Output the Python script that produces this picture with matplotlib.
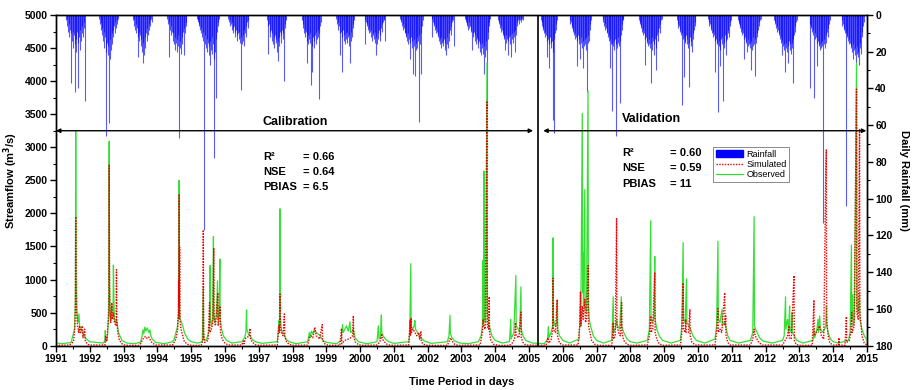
import numpy as np
import matplotlib
matplotlib.use("Agg")
import matplotlib.pyplot as plt
from matplotlib.patches import Patch
from matplotlib.lines import Line2D

plt.rcParams['font.family'] = ['Liberation Sans', 'DejaVu Sans']
plt.rcParams['font.weight'] = 'bold'

# observed streamflow (decimal year, m3/s)
observed = [
    (1991.00, 40), (1991.20, 30), (1991.45, 50), (1991.55, 250), (1991.575, 700), (1991.585, 3240),
    (1991.595, 900), (1991.605, 960), (1991.62, 500), (1991.65, 350), (1991.68, 480), (1991.70, 300),
    (1991.75, 250), (1991.80, 180), (1991.90, 100), (1992.00, 60), (1992.40, 40), (1992.45, 80),
    (1992.46, 230), (1992.47, 60), (1992.52, 100), (1992.55, 350), (1992.565, 900), (1992.575, 3090),
    (1992.585, 1000), (1992.60, 450), (1992.63, 400), (1992.65, 600), (1992.69, 500), (1992.70, 1220),
    (1992.715, 700), (1992.73, 400), (1992.76, 350), (1992.79, 400), (1992.85, 200), (1992.95, 80),
    (1993.10, 40), (1993.30, 30), (1993.50, 50), (1993.55, 150), (1993.57, 240), (1993.60, 180),
    (1993.63, 280), (1993.66, 220), (1993.70, 270), (1993.75, 200), (1993.78, 240), (1993.80, 160),
    (1993.85, 100), (1993.95, 50), (1994.20, 30), (1994.45, 60), (1994.50, 100), (1994.55, 200),
    (1994.60, 300), (1994.63, 500), (1994.645, 2500), (1994.655, 700), (1994.67, 400), (1994.70, 370),
    (1994.75, 300), (1994.80, 200), (1994.90, 100), (1995.00, 60), (1995.20, 40), (1995.33, 60),
    (1995.36, 890), (1995.37, 100), (1995.45, 80), (1995.52, 200), (1995.55, 400), (1995.56, 1210),
    (1995.57, 450), (1995.60, 300), (1995.64, 400), (1995.66, 1650), (1995.67, 500), (1995.70, 350),
    (1995.75, 450), (1995.78, 980), (1995.79, 400), (1995.83, 500), (1995.85, 1310), (1995.86, 400),
    (1995.90, 250), (1995.95, 150), (1996.05, 80), (1996.20, 40), (1996.50, 60), (1996.58, 120),
    (1996.62, 200), (1996.64, 540), (1996.65, 250), (1996.70, 170), (1996.75, 150), (1996.80, 100),
    (1996.90, 60), (1997.10, 35), (1997.55, 60), (1997.60, 380), (1997.615, 300), (1997.63, 2070),
    (1997.64, 400), (1997.67, 250), (1997.70, 200), (1997.75, 180), (1997.80, 100), (1997.90, 60),
    (1998.10, 30), (1998.45, 60), (1998.50, 200), (1998.52, 120), (1998.56, 220), (1998.60, 180),
    (1998.65, 240), (1998.70, 200), (1998.75, 180), (1998.80, 160), (1998.85, 120), (1998.90, 80),
    (1999.00, 50), (1999.30, 30), (1999.44, 80), (1999.48, 320), (1999.50, 200), (1999.55, 250),
    (1999.60, 300), (1999.65, 220), (1999.70, 360), (1999.72, 200), (1999.78, 220), (1999.80, 250),
    (1999.85, 120), (1999.95, 60), (2000.20, 30), (2000.50, 60), (2000.54, 300), (2000.56, 100),
    (2000.60, 130), (2000.63, 465), (2000.64, 200), (2000.68, 150), (2000.75, 100), (2000.85, 60),
    (2001.00, 35), (2001.44, 60), (2001.47, 200), (2001.50, 1240), (2001.51, 300), (2001.55, 250),
    (2001.60, 300), (2001.62, 380), (2001.64, 250), (2001.70, 200), (2001.75, 150), (2001.80, 120),
    (2001.90, 70), (2002.10, 35), (2002.58, 60), (2002.63, 150), (2002.66, 460), (2002.67, 180),
    (2002.72, 120), (2002.80, 70), (2002.95, 40), (2003.20, 30), (2003.50, 60), (2003.58, 150),
    (2003.62, 300), (2003.64, 1290), (2003.65, 350), (2003.665, 2640), (2003.675, 400), (2003.72, 350),
    (2003.755, 4280), (2003.765, 500), (2003.80, 330), (2003.85, 250), (2003.90, 150), (2004.00, 80),
    (2004.20, 40), (2004.42, 60), (2004.46, 400), (2004.47, 100), (2004.55, 200), (2004.61, 1060),
    (2004.62, 300), (2004.68, 250), (2004.72, 200), (2004.76, 890), (2004.77, 250), (2004.82, 150),
    (2004.90, 80), (2005.10, 40), (2005.45, 30), (2005.55, 100), (2005.57, 290), (2005.59, 120),
    (2005.65, 200), (2005.70, 300), (2005.71, 1630), (2005.72, 400), (2005.77, 300), (2005.82, 350),
    (2005.84, 680), (2005.85, 250), (2005.90, 150), (2006.00, 80), (2006.20, 40), (2006.48, 100),
    (2006.52, 600), (2006.53, 300), (2006.575, 3510), (2006.585, 800), (2006.60, 1400), (2006.61, 600),
    (2006.65, 2360), (2006.66, 600), (2006.70, 500), (2006.745, 3850), (2006.755, 600), (2006.78, 400),
    (2006.82, 300), (2006.90, 150), (2007.00, 80), (2007.20, 40), (2007.45, 80), (2007.49, 740),
    (2007.50, 200), (2007.55, 250), (2007.59, 400), (2007.62, 300), (2007.68, 250), (2007.73, 740),
    (2007.74, 300), (2007.80, 200), (2007.90, 100), (2008.00, 60), (2008.20, 40), (2008.50, 80),
    (2008.56, 250), (2008.60, 1890), (2008.61, 400), (2008.65, 350), (2008.70, 450), (2008.72, 1350),
    (2008.73, 400), (2008.78, 250), (2008.85, 150), (2008.95, 80), (2009.20, 40), (2009.48, 80),
    (2009.52, 300), (2009.56, 1560), (2009.57, 400), (2009.62, 350), (2009.66, 1010), (2009.67, 350),
    (2009.72, 300), (2009.78, 250), (2009.85, 150), (2009.95, 80), (2010.20, 40), (2010.50, 100),
    (2010.55, 300), (2010.59, 1580), (2010.60, 400), (2010.65, 350), (2010.71, 550), (2010.72, 300),
    (2010.78, 350), (2010.82, 300), (2010.88, 150), (2010.95, 80), (2011.20, 40), (2011.55, 80),
    (2011.62, 200), (2011.66, 1950), (2011.67, 300), (2011.70, 250), (2011.75, 200), (2011.82, 120),
    (2011.92, 70), (2012.20, 40), (2012.50, 80), (2012.55, 150), (2012.59, 740), (2012.60, 250),
    (2012.65, 400), (2012.68, 200), (2012.71, 600), (2012.72, 250), (2012.76, 200), (2012.78, 500),
    (2012.79, 200), (2012.85, 150), (2012.92, 80), (2013.10, 40), (2013.40, 80), (2013.43, 250),
    (2013.45, 120), (2013.52, 250), (2013.55, 400), (2013.57, 200), (2013.60, 450), (2013.62, 250),
    (2013.70, 200), (2013.78, 300), (2013.80, 600), (2013.81, 300), (2013.85, 200), (2013.92, 100),
    (2014.00, 60), (2014.15, 40), (2014.45, 80), (2014.50, 200), (2014.54, 1520), (2014.55, 400),
    (2014.58, 770), (2014.59, 300), (2014.63, 400), (2014.69, 4270), (2014.70, 600), (2014.74, 500),
    (2014.78, 800), (2014.79, 400), (2014.85, 250), (2014.92, 150), (2015.00, 80),
]

# simulated streamflow (decimal year, m3/s)
simulated = [
    (1991.00, 5), (1991.40, 10), (1991.52, 60), (1991.56, 300), (1991.575, 600), (1991.585, 1950),
    (1991.595, 700), (1991.61, 550), (1991.63, 350), (1991.67, 200), (1991.70, 300), (1991.72, 180),
    (1991.78, 300), (1991.80, 120), (1991.85, 250), (1991.87, 60), (1991.95, 20), (1992.00, 10),
    (1992.45, 10), (1992.47, 150), (1992.50, 60), (1992.55, 400), (1992.565, 600), (1992.575, 2740),
    (1992.585, 900), (1992.60, 500), (1992.62, 350), (1992.65, 650), (1992.67, 400), (1992.70, 500),
    (1992.73, 350), (1992.78, 300), (1992.79, 1150), (1992.80, 400), (1992.83, 200), (1992.88, 80),
    (1992.95, 30), (1993.05, 5), (1993.45, 5), (1993.50, 30), (1993.55, 80), (1993.60, 120),
    (1993.65, 140), (1993.70, 110), (1993.75, 130), (1993.80, 80), (1993.85, 40), (1993.95, 10),
    (1994.45, 10), (1994.55, 100), (1994.60, 250), (1994.62, 500), (1994.63, 990), (1994.635, 400),
    (1994.645, 2290), (1994.652, 600), (1994.66, 1490), (1994.67, 400), (1994.70, 250), (1994.75, 150),
    (1994.80, 60), (1994.90, 20), (1995.00, 5), (1995.30, 5), (1995.35, 100), (1995.36, 1750),
    (1995.37, 200), (1995.40, 50), (1995.50, 80), (1995.545, 650), (1995.555, 200), (1995.60, 250),
    (1995.64, 350), (1995.67, 1480), (1995.68, 400), (1995.72, 300), (1995.79, 800), (1995.80, 300),
    (1995.86, 600), (1995.87, 200), (1995.92, 100), (1996.00, 40), (1996.10, 10), (1996.50, 10),
    (1996.55, 70), (1996.56, 30), (1996.62, 120), (1996.66, 130), (1996.72, 140), (1996.74, 260),
    (1996.75, 120), (1996.80, 60), (1996.90, 15), (1997.00, 5), (1997.55, 10), (1997.60, 300),
    (1997.615, 200), (1997.63, 780), (1997.64, 300), (1997.67, 200), (1997.72, 150), (1997.76, 480),
    (1997.77, 150), (1997.82, 60), (1997.90, 20), (1998.00, 5), (1998.45, 10), (1998.50, 120),
    (1998.55, 150), (1998.60, 120), (1998.66, 280), (1998.70, 150), (1998.75, 130), (1998.80, 100),
    (1998.88, 320), (1998.89, 80), (1998.95, 30), (1999.05, 5), (1999.40, 5), (1999.45, 260),
    (1999.46, 30), (1999.55, 80), (1999.65, 100), (1999.72, 120), (1999.78, 150), (1999.80, 455),
    (1999.81, 150), (1999.85, 60), (1999.95, 15), (2000.05, 5), (2000.50, 10), (2000.55, 40),
    (2000.60, 80), (2000.64, 180), (2000.66, 100), (2000.72, 60), (2000.80, 20), (2000.90, 5),
    (2001.44, 10), (2001.48, 380), (2001.49, 150), (2001.51, 420), (2001.52, 200), (2001.57, 250),
    (2001.62, 200), (2001.68, 150), (2001.74, 200), (2001.76, 100), (2001.80, 220), (2001.81, 80),
    (2001.85, 30), (2001.95, 5), (2002.58, 5), (2002.63, 60), (2002.67, 120), (2002.72, 70),
    (2002.80, 20), (2002.90, 5), (2003.55, 10), (2003.62, 200), (2003.64, 400), (2003.66, 300),
    (2003.70, 250), (2003.755, 3700), (2003.765, 300), (2003.80, 250), (2003.82, 740), (2003.83, 200),
    (2003.87, 80), (2003.95, 20), (2004.10, 5), (2004.42, 5), (2004.50, 40), (2004.57, 100),
    (2004.60, 350), (2004.62, 150), (2004.70, 120), (2004.76, 510), (2004.77, 120), (2004.82, 50),
    (2004.90, 10), (2005.50, 5), (2005.56, 120), (2005.58, 40), (2005.65, 80), (2005.70, 250),
    (2005.71, 1020), (2005.72, 250), (2005.78, 200), (2005.83, 700), (2005.84, 150), (2005.90, 40),
    (2006.00, 10), (2006.45, 10), (2006.50, 300), (2006.52, 820), (2006.53, 300), (2006.58, 600),
    (2006.60, 400), (2006.65, 700), (2006.67, 350), (2006.70, 400), (2006.75, 1210), (2006.76, 300),
    (2006.80, 200), (2006.85, 80), (2006.95, 20), (2007.05, 5), (2007.45, 5), (2007.49, 350),
    (2007.50, 100), (2007.55, 150), (2007.59, 1920), (2007.60, 300), (2007.65, 200), (2007.70, 150),
    (2007.74, 650), (2007.75, 200), (2007.80, 80), (2007.90, 20), (2008.00, 5), (2008.50, 10),
    (2008.56, 150), (2008.60, 450), (2008.61, 200), (2008.66, 250), (2008.72, 1110), (2008.73, 200),
    (2008.78, 100), (2008.85, 30), (2008.95, 5), (2009.48, 10), (2009.52, 200), (2009.56, 950),
    (2009.57, 250), (2009.62, 200), (2009.64, 400), (2009.65, 200), (2009.72, 200), (2009.76, 550),
    (2009.77, 150), (2009.82, 50), (2009.92, 10), (2010.50, 10), (2010.55, 200), (2010.59, 560),
    (2010.60, 200), (2010.65, 250), (2010.70, 200), (2010.79, 800), (2010.80, 300), (2010.82, 450),
    (2010.83, 150), (2010.88, 50), (2010.95, 10), (2011.55, 10), (2011.62, 100), (2011.66, 250),
    (2011.68, 180), (2011.72, 120), (2011.80, 50), (2011.90, 10), (2012.50, 10), (2012.60, 100),
    (2012.65, 150), (2012.69, 300), (2012.70, 120), (2012.76, 100), (2012.84, 1060), (2012.85, 80),
    (2012.90, 20), (2013.00, 5), (2013.38, 5), (2013.43, 690), (2013.44, 150), (2013.50, 200),
    (2013.55, 250), (2013.60, 300), (2013.65, 150), (2013.72, 100), (2013.785, 2770), (2013.795, 2960),
    (2013.805, 400), (2013.85, 150), (2013.90, 40), (2014.00, 10), (2014.16, 10), (2014.17, 120),
    (2014.18, 10), (2014.35, 5), (2014.39, 440), (2014.40, 50), (2014.48, 80), (2014.52, 200),
    (2014.55, 500), (2014.56, 200), (2014.62, 300), (2014.69, 3880), (2014.70, 500), (2014.74, 400),
    (2014.78, 3270), (2014.79, 500), (2014.85, 150), (2014.92, 40), (2015.00, 10),
]

# daily rainfall (mm): first bar of each wet season, bars one week apart
rain_start = [1991.30, 1992.28, 1993.28, 1994.30, 1995.17, 1996.10, 1997.25, 1998.28,
              1999.30, 2000.14, 2001.18, 2002.12, 2003.10, 2004.08, 2005.35, 2006.20,
              2007.18, 2008.25, 2009.38, 2010.30, 2011.18, 2012.25, 2013.30, 2014.25]
rain_mm = [
    [3, 6, 2, 9, 5, 12, 8, 10, 37, 14, 9, 18, 11, 16, 42, 13, 20, 9, 40, 15, 12, 19, 8, 14, 10, 6, 12, 4, 7, 47],
    [2, 5, 8, 4, 11, 7, 14, 9, 18, 12, 66, 20, 15, 22, 17, 59, 24, 13, 19, 10, 16, 8, 12, 6, 10, 4, 7, 3, 5, 2],
    [3, 6, 2, 8, 5, 10, 7, 12, 23, 9, 14, 11, 17, 13, 20, 26, 15, 22, 12, 18, 10, 14, 7, 11, 5, 8, 3, 6, 2, 4],
    [2, 5, 23, 4, 8, 6, 11, 9, 14, 10, 16, 12, 19, 15, 13, 20, 17, 11, 67, 18, 14, 21, 12, 16, 9, 22, 7, 10, 4, 6],
    [2, 4, 3, 6, 5, 8, 10, 7, 12, 14, 9, 117, 16, 11, 18, 13, 20, 15, 22, 17, 14, 27, 19, 12, 21, 16, 24, 78, 20, 45, 13, 9, 6, 4, 2],
    [2, 4, 6, 3, 5, 8, 4, 7, 10, 6, 9, 12, 8, 11, 14, 10, 13, 9, 15, 41, 12, 16, 11, 14, 8, 17, 10, 6, 12, 4, 7, 3],
    [3, 6, 21, 5, 9, 12, 8, 14, 10, 16, 12, 18, 11, 15, 13, 20, 14, 25, 12, 17, 9, 15, 11, 8, 13, 10, 36, 7, 5, 3],
    [3, 7, 5, 10, 8, 12, 9, 14, 26, 11, 16, 13, 10, 15, 38, 17, 31, 12, 18, 14, 11, 16, 9, 13, 8, 12, 10, 46, 6, 4],
    [2, 5, 4, 8, 6, 10, 22, 9, 31, 12, 8, 14, 11, 16, 10, 13, 9, 15, 12, 17, 11, 26, 14, 9, 12, 7, 5, 3],
    [3, 16, 4, 6, 5, 8, 7, 10, 9, 12, 8, 14, 11, 10, 13, 9, 15, 22, 12, 16, 10, 13, 8, 11, 14, 7, 9, 5, 4, 2, 3, 14],
    [2, 4, 3, 6, 5, 8, 7, 10, 9, 12, 11, 14, 10, 16, 13, 24, 15, 12, 18, 14, 32, 17, 13, 33, 19, 15, 12, 18, 14, 11, 58, 16, 10, 32, 6, 3],
    [2, 12, 4, 6, 5, 8, 7, 10, 9, 12, 11, 14, 13, 16, 12, 18, 15, 14, 17, 13, 19, 15, 22, 16, 12, 18, 10, 14, 8, 11, 6, 4, 2, 3, 17],
    [2, 4, 3, 6, 5, 8, 4, 7, 6, 9, 8, 19, 10, 12, 9, 14, 11, 16, 13, 12, 18, 15, 14, 20, 16, 22, 18, 15, 21, 32, 17, 23, 14, 19, 51, 13, 9, 6, 4, 2],
    [3, 5, 4, 7, 6, 9, 8, 11, 10, 13, 12, 19, 11, 15, 13, 22, 14, 12, 16, 11, 23, 13, 10, 15, 12, 9, 20, 8, 11, 6, 4, 3, 2, 5, 3, 2, 4, 2, 3],
    [3, 6, 4, 8, 7, 10, 9, 12, 11, 23, 14, 13, 29, 16, 12, 18, 15, 14, 20, 57, 64, 13, 10, 8, 5, 3],
    [3, 5, 4, 7, 6, 9, 8, 11, 10, 13, 12, 28, 14, 11, 16, 13, 24, 15, 12, 18, 29, 14, 17, 13, 16, 12, 19, 42, 15, 11, 14, 8, 5, 3],
    [2, 4, 6, 5, 8, 7, 10, 9, 12, 11, 14, 29, 13, 16, 15, 52, 17, 14, 19, 13, 16, 66, 18, 15, 12, 17, 14, 48, 11, 8, 5, 3, 2],
    [3, 5, 4, 7, 6, 9, 8, 11, 10, 13, 27, 12, 15, 14, 17, 13, 16, 18, 37, 15, 12, 19, 14, 22, 16, 13, 30, 18, 11, 9, 14, 7, 10, 5, 3, 2],
    [3, 5, 7, 6, 9, 8, 11, 49, 10, 13, 34, 12, 15, 14, 11, 16, 13, 18, 39, 15, 12, 17, 14, 20, 10, 13, 8, 6, 4],
    [2, 4, 6, 5, 8, 7, 10, 9, 12, 11, 31, 14, 13, 16, 15, 53, 17, 14, 28, 19, 13, 16, 12, 47, 18, 15, 11, 14, 22, 13, 10, 8, 12, 6, 4, 3],
    [3, 5, 4, 7, 6, 9, 8, 11, 10, 13, 24, 12, 15, 14, 20, 17, 13, 16, 18, 15, 30, 14, 19, 12, 17, 16, 33, 13, 15, 10, 12, 8, 6, 4, 3, 2],
    [3, 5, 4, 7, 6, 9, 8, 11, 10, 13, 12, 15, 22, 14, 17, 16, 19, 31, 18, 15, 20, 26, 17, 14, 19, 16, 21, 18, 15, 13, 37, 11, 9, 6, 4, 3],
    [40, 5, 7, 6, 9, 8, 11, 45, 10, 13, 12, 15, 28, 14, 17, 16, 19, 15, 18, 14, 17, 113, 16, 13, 18, 11, 15, 9, 12, 7, 5, 3],
    [3, 6, 5, 8, 7, 10, 9, 104, 12, 11, 14, 13, 16, 15, 18, 17, 20, 16, 24, 19, 22, 18, 26, 21, 17, 23, 20, 27, 18, 15, 21, 12, 9, 6, 4],
]

split_year = 2005.26
cal_stats = [("R²", "= 0.66"), ("NSE", "= 0.64"), ("PBIAS", "= 6.5")]
val_stats = [("R²", "= 0.60"), ("NSE", "= 0.59"), ("PBIAS", "= 11")]

obs = np.array(observed)
sim = np.array(simulated)
rain_t, rain_v = [], []
for start, vals in zip(rain_start, rain_mm):
    for i, v in enumerate(vals):
        rain_t.append(start + i * 7 / 365.25)
        rain_v.append(v)

fig = plt.figure(figsize=(9.13, 3.90), dpi=100)
ax = fig.add_axes([0.0613, 0.1136, 0.8883, 0.848])
ax2 = ax.twinx()
ax.set_zorder(ax2.get_zorder() + 1)
ax.patch.set_visible(False)

# rainfall hanging from the top
ax2.vlines(rain_t, 0, rain_v, color='#0000ff', lw=0.8, alpha=0.65)
ax2.set_ylim(180, 0)
ax2.set_yticks(np.arange(0, 181, 20))
ax2.set_yticks(np.arange(0, 181, 10), minor=True)
ax2.set_ylabel("Daily Rainfall (mm)", rotation=270, labelpad=12, fontsize=8, fontweight='bold')

# streamflow
ax.plot(obs[:, 0], obs[:, 1], color='#33e033', lw=0.9)
ax.plot(sim[:, 0], sim[:, 1], color='#ee0000', lw=1.0, ls=(0, (1, 1)))
ax.set_xlim(1991, 2015)
ax.set_ylim(0, 5000)
ax.set_xticks(np.arange(1991, 2016, 1))
ax.set_xticks(np.arange(1991, 2015.01, 0.5), minor=True)
ax.set_yticks(np.arange(0, 5001, 500))
ax.set_yticks(np.arange(0, 5001, 250), minor=True)
ax.set_xlabel("Time Period in days", fontsize=8, fontweight='bold', labelpad=9)
ax.set_ylabel("Streamflow (m$^3$/s)", fontsize=8, fontweight='bold', labelpad=3)

for a in (ax, ax2):
    a.tick_params(which='major', length=4, width=1, labelsize=7.5, pad=2)
    a.tick_params(which='minor', length=2, width=0.8)
    for s in a.spines.values():
        s.set_linewidth(1.0)

# calibration / validation split
ax.axvline(split_year, color='black', lw=1.2)
arrow = dict(arrowstyle='<|-|>', color='black', lw=1.0, mutation_scale=6, shrinkA=0, shrinkB=0)
ax.annotate('', xy=(1991.0, 3250), xytext=(2005.12, 3250), arrowprops=arrow)
ax.annotate('', xy=(2005.42, 3250), xytext=(2014.98, 3250), arrowprops=arrow)
ax.text(1997.12, 3380, "Calibration", fontsize=9, ha='left', va='center')
ax.text(2007.75, 3420, "Validation", fontsize=9, ha='left', va='center')

for i, (name, val) in enumerate(cal_stats):
    y = 2860 - i * 228
    ax.text(1997.12, y, name, fontsize=8, ha='left', va='center')
    ax.text(1998.30, y, val, fontsize=8, ha='left', va='center')
for i, (name, val) in enumerate(val_stats):
    y = 2920 - i * 235
    ax.text(2007.75, y, name, fontsize=8, ha='left', va='center')
    ax.text(2009.17, y, val, fontsize=8, ha='left', va='center')

handles = [Patch(facecolor='#0000ff', edgecolor='#0000ff'),
           Line2D([], [], color='#ee0000', lw=1.0, ls=(0, (1, 1))),
           Line2D([], [], color='#33e033', lw=0.9)]
leg = ax.legend(handles, ["Rainfall", "Simulated", "Observed"], loc='upper left',
                bbox_to_anchor=(0.81, 0.601), borderaxespad=0, frameon=True, fancybox=False,
                prop={'size': 6.5, 'weight': 'normal'}, handlelength=3.0, handleheight=0.9,
                labelspacing=0.15, borderpad=0.3, handletextpad=0.4)
leg.get_frame().set_edgecolor('#555555')
leg.get_frame().set_linewidth(0.6)

fig.savefig("out.png", dpi=100)
